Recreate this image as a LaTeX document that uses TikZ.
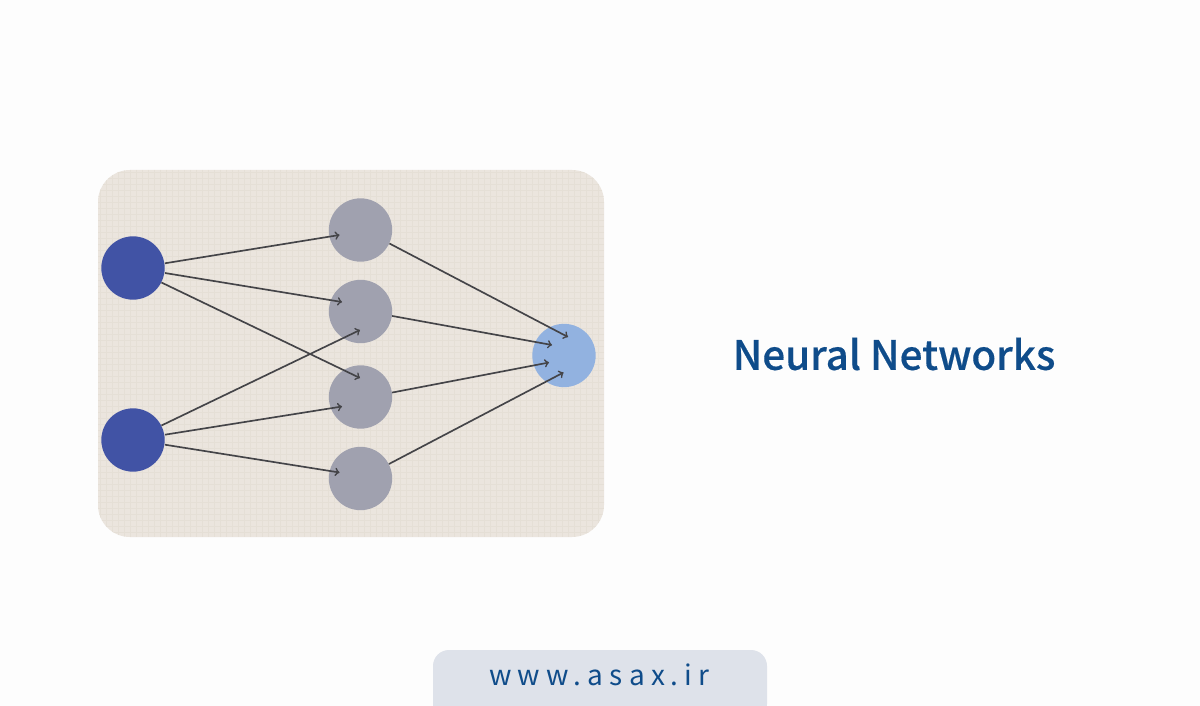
\documentclass[tikz,border=0pt]{standalone}
\usepackage{fontspec}
\usetikzlibrary{arrows}
\newfontfamily\titlefont[FakeBold=0.35]{Noto Sans CJK SC Medium}
\newfontfamily\sitefont[LetterSpace=22]{Noto Sans CJK SC}
\definecolor{pagebg}{RGB}{253,253,253}
\definecolor{panelbg}{RGB}{235,229,222}
\definecolor{panelgrid}{RGB}{229,223,214}
\definecolor{inputblue}{RGB}{65,83,165}
\definecolor{hiddengray}{RGB}{160,161,175}
\definecolor{outputblue}{RGB}{146,178,224}
\definecolor{linkgray}{RGB}{68,68,72}
\definecolor{titleblue}{RGB}{15,76,138}
\definecolor{tabbg}{RGB}{222,226,234}
\tikzset{
  neuron/.style={circle,minimum size=47.5pt,inner sep=0pt},
  inneuron/.style={neuron,fill=inputblue},
  hidneuron/.style={neuron,fill=hiddengray},
  outneuron/.style={neuron,fill=outputblue},
  link/.style={color=linkgray,line width=1.25pt,-to}
}

\begin{document}
\begin{tikzpicture}[x=0.75pt,y=0.75pt,yscale=-1]
\useasboundingbox (0,0) rectangle (1200,706);
\fill[pagebg] (0,0) rectangle (1200,706);

%panel with its faint grid
\fill[panelbg,rounded corners=24pt] (98,170) rectangle (604,537);
\begin{scope}
\clip[rounded corners=24pt] (98,170) rectangle (604,537);
\foreach \gx in {100,106,...,604} \draw[panelgrid,line width=0.4pt] (\gx,170) -- (\gx,537);
\foreach \gy in {172,178,...,537} \draw[panelgrid,line width=0.4pt] (98,\gy) -- (604,\gy);
\end{scope}

%neurons
\node[inneuron] (in1) at (133,268) {};
\node[inneuron] (in2) at (133,440) {};
\node[hidneuron] (hid1) at (360.5,230) {};
\node[hidneuron] (hid2) at (360.5,311.5) {};
\node[hidneuron] (hid3) at (360.5,397) {};
\node[hidneuron] (hid4) at (360.5,478.5) {};
\node[outneuron] (out) at (564,355.5) {};

%where the arrows stop, inside the neurons
\coordinate (t11) at (339.5,235);
\coordinate (t12) at (342,302);
\coordinate (t13) at (360,378);
\coordinate (t22) at (360,330);
\coordinate (t23) at (342,406.5);
\coordinate (t24) at (339.5,472.5);
\coordinate (t1) at (568,337);
\coordinate (t2) at (552,345);
\coordinate (t3) at (549,362.5);
\coordinate (t4) at (563.5,372.5);

%links
\draw[link] (in1.east |- 0,263.3) -- (t11);
\draw[link] (in1.east |- 0,273) -- (t12);
\draw[link] (in1.-27) -- (t13);
\draw[link] (in2.27) -- (t22);
\draw[link] (in2.east |- 0,434.7) -- (t23);
\draw[link] (in2.east |- 0,444.7) -- (t24);
\draw[link] (hid1.-25) -- (t1);
\draw[link] (hid2.-8) -- (t2);
\draw[link] (hid3.8) -- (t3);
\draw[link] (hid4.27) -- (t4);

%texts
\node[text=titleblue,font=\titlefont\fontsize{30.3}{36}\selectfont,inner sep=0pt] (title) at (894,354) {Neural Networks};
\fill[tabbg,rounded corners=12pt] (433,720) -- (433,650) -- (767,650) -- (767,720) -- cycle;
\node[text=titleblue,font=\sitefont\fontsize{21}{24}\selectfont,inner sep=0pt] (site) at (599.5,675) {www.asax.ir};
\end{tikzpicture}
\end{document}
